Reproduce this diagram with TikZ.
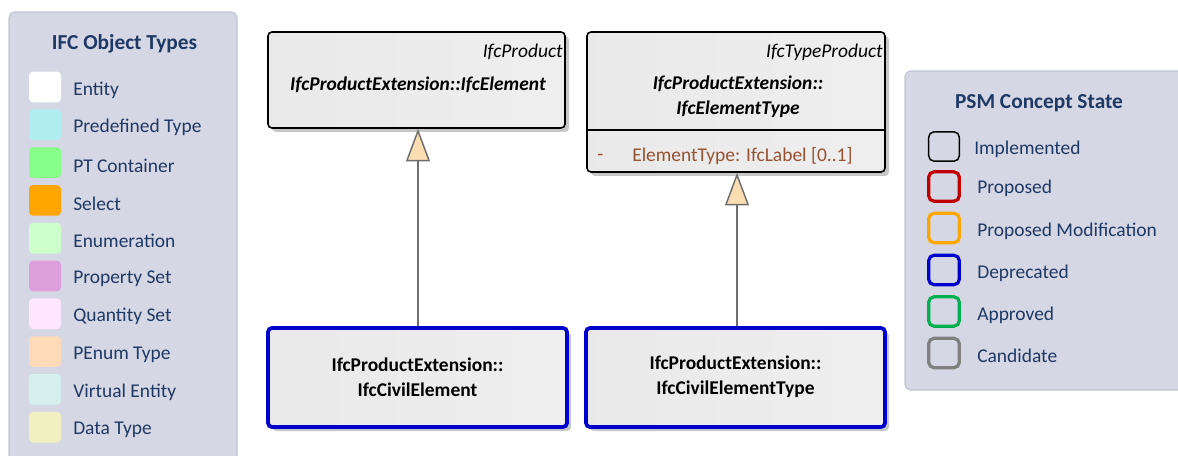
\documentclass[tikz,border=0pt]{standalone}
\usepackage{fontspec}
\setmainfont{Carlito}
\usetikzlibrary{arrows.meta,shadows,fit}
\definecolor{panelfill}{RGB}{213,216,228}
\definecolor{paneldraw}{RGB}{192,196,210}
\definecolor{navy}{RGB}{31,56,100}
\definecolor{attrc}{RGB}{150,82,50}
\definecolor{tipfill}{RGB}{250,222,178}
\definecolor{genline}{RGB}{110,110,110}
\definecolor{deprblue}{RGB}{0,0,204}
\definecolor{cEntity}{RGB}{255,255,255}
\definecolor{cPredef}{RGB}{175,238,238}
\definecolor{cPT}{RGB}{136,255,136}
\definecolor{cSelect}{RGB}{255,165,0}
\definecolor{cEnum}{RGB}{204,255,204}
\definecolor{cPset}{RGB}{221,160,221}
\definecolor{cQset}{RGB}{255,230,255}
\definecolor{cPEnum}{RGB}{255,218,185}
\definecolor{cVirtual}{RGB}{214,240,240}
\definecolor{cData}{RGB}{240,240,192}
\definecolor{sProposed}{RGB}{192,0,0}
\definecolor{sPropMod}{RGB}{255,165,0}
\definecolor{sDepr}{RGB}{0,0,204}
\definecolor{sAppr}{RGB}{0,176,80}
\definecolor{sCand}{RGB}{128,128,128}
\newcommand\lgfont{\fontsize{14.6pt}{17pt}\selectfont}
\newcommand\ttlfont{\fontsize{16pt}{19pt}\selectfont\bfseries}
\begin{document}
\begin{tikzpicture}[x=0.75pt,y=-0.75pt,
  legendpanel/.style={draw=paneldraw, fill=panelfill, line width=0.8pt, rounded corners=4pt},
  swatch/.style={rounded corners=3pt, minimum width=24pt, minimum height=23pt, inner sep=0pt, draw=none},
  stateswatch/.style={rounded corners=4pt, minimum width=23pt, minimum height=22pt, inner sep=0pt, line width=2.4pt},
  lgtext/.style={font=\lgfont, text=navy, anchor=west, inner sep=0pt},
  lgtitle/.style={font=\ttlfont, text=navy, inner sep=0pt},
  classbox/.style={draw=black, line width=1.2pt, rounded corners=3pt, inner sep=0pt,
     left color=gray!17, middle color=white!98!gray, right color=gray!13,
     drop shadow={shadow xshift=3pt, shadow yshift=-3pt, fill=black!22, opacity=1}},
  deprbox/.style={classbox, draw=deprblue, line width=2.8pt},
  ctext/.style={font=\lgfont, align=center, inner sep=0pt},
  gen/.style={draw=genline, line width=1.4pt, -{Triangle[width=18pt,length=24.5pt,fill=tipfill,line width=1.1pt]}}
]
\useasboundingbox (0,0) rectangle (1178,456);
\clip (0,0) rectangle (1178,456);

% ---------- left legend
\draw[legendpanel] (9,12) rectangle (237,480);
\node[lgtitle] (lt) at (124.5,44) {IFC Object Types};
\foreach \i/\c/\t [count=\k from 0] in {e/cEntity/Entity, p/cPredef/Predefined Type, c/cPT/PT Container, s/cSelect/Select, n/cEnum/Enumeration, ps/cPset/Property Set, q/cQset/Quantity Set, pe/cPEnum/PEnum Type, v/cVirtual/Virtual Entity, d/cData/Data Type}{
  \node[swatch, fill=\c] (sw\i) at (45,87+37.8*\k) {};
  \node[lgtext] (lt\i) at (73,90+37.8*\k) {\t};
}

% ---------- right legend
\draw[legendpanel] (905,71) rectangle (1200,390);
\node[lgtitle] (rt) at (1039,103) {PSM Concept State};
\node[stateswatch, draw=black, line width=1.1pt] (ss1) at (944,146.5) {};
\node[lgtext] (st1) at (974,149) {Implemented};
\node[stateswatch, draw=sProposed] (ss2) at (944,186.5) {};
\node[lgtext] (st2) at (977,188) {Proposed};
\node[stateswatch, draw=sPropMod] (ss3) at (944,228) {};
\node[lgtext] (st3) at (977,231) {Proposed Modification};
\node[stateswatch, draw=sDepr] (ss4) at (944,270) {};
\node[lgtext] (st4) at (977,273) {Deprecated};
\node[stateswatch, draw=sAppr] (ss5) at (944,311.5) {};
\node[lgtext] (st5) at (977,315) {Approved};
\node[stateswatch, draw=sCand] (ss6) at (944,353) {};
\node[lgtext] (st6) at (977,356) {Candidate};

% ---------- class boxes
\node[classbox, fit={(268,32) (565,128)}] (A) {};
\node[ctext, anchor=east, font=\lgfont\itshape] (Ast) at (563,52) {IfcProduct};
\node[ctext, font=\lgfont\bfseries\itshape] (An) at (418,85) {IfcProductExtension::IfcElement};

\node[classbox, fit={(587,32) (885,172)}] (B) {};
\node[ctext, anchor=east, font=\lgfont\itshape] (Bst) at (883,52) {IfcTypeProduct};
\node[ctext, font=\lgfont\bfseries\itshape] (Bn) at (738,97) {IfcProductExtension::\\[1.5pt]IfcElementType};
\coordinate (Bsl) at (587,130);
\coordinate (Bsr) at (885,130);
\draw[line width=1.2pt] (Bsl) -- (Bsr);
\node[ctext, anchor=west, text=attrc] (Bd) at (597,157) {-};
\node[ctext, anchor=west, text=attrc] (Ba) at (632,156) {ElementType: IfcLabel [0..1]};

\node[deprbox, fit={(268,328) (567,427)}] (C) {};
\node[ctext, font=\lgfont\bfseries] (Cn) at (417.5,377) {IfcProductExtension::\\[1.5pt]IfcCivilElement};

\node[deprbox, fit={(586,328) (885,427)}] (D) {};
\node[ctext, font=\lgfont\bfseries] (Dn) at (735.5,377) {IfcProductExtension::\\[1.5pt]IfcCivilElementType};

% ---------- generalizations
\draw[gen] (C.north -| 418,0) -- (A.south -| 418,0);
\draw[gen] (D.north -| 737,0) -- (B.south -| 737,0);
\end{tikzpicture}
\end{document}
